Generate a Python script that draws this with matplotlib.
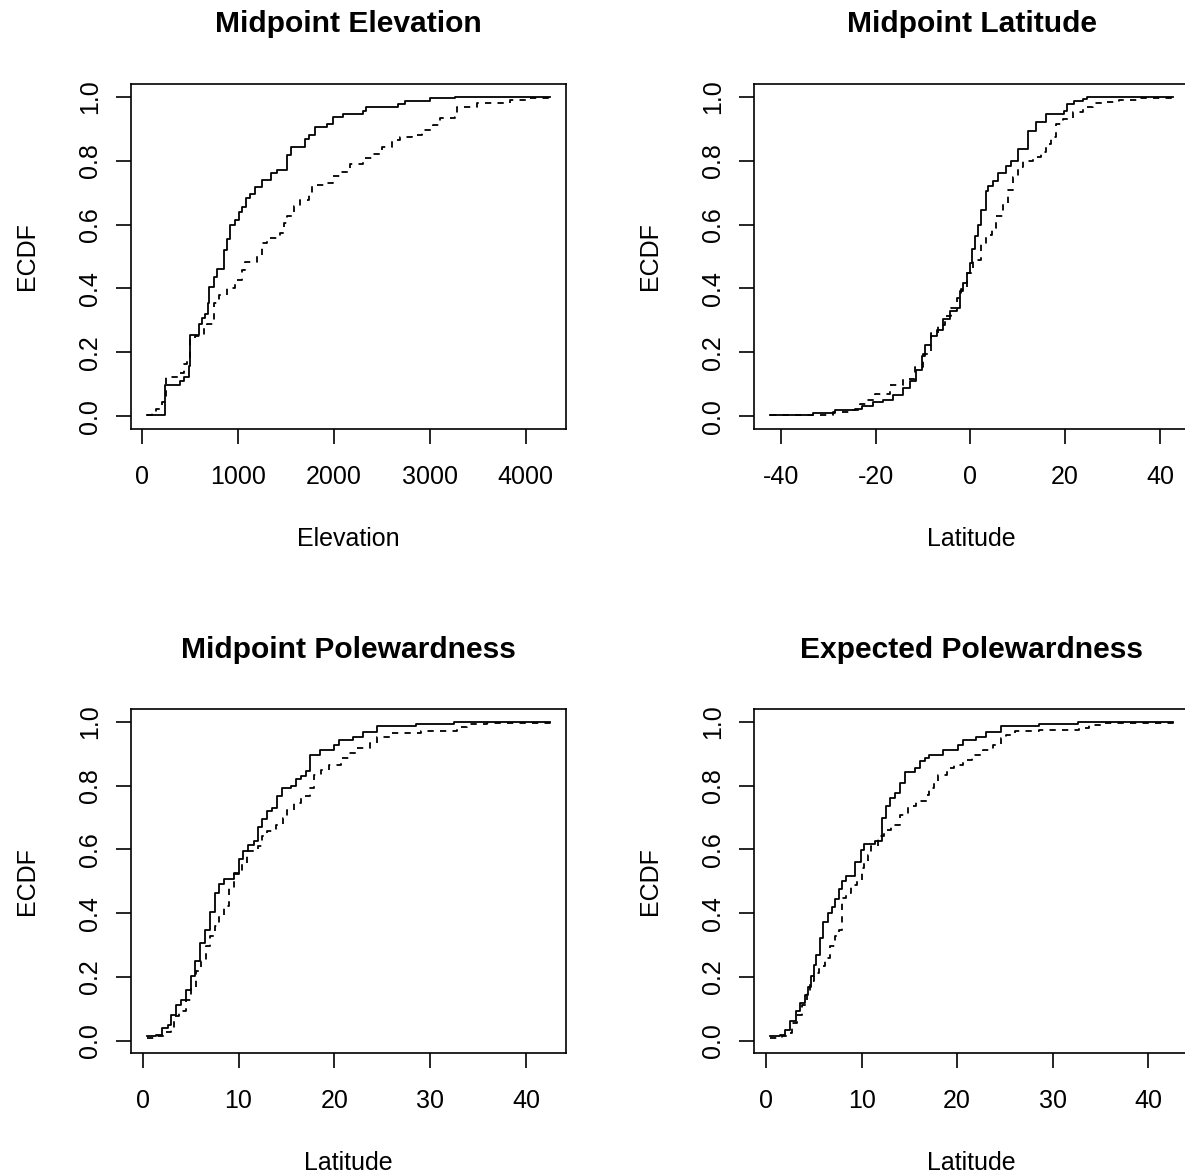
import matplotlib
matplotlib.use('Agg')
import matplotlib.pyplot as plt

plt.rcParams['font.family'] = ['Liberation Sans', 'DejaVu Sans']
plt.rcParams['lines.scale_dashes'] = False

# ECDF step points: solid (a) and dashed (b) curve per panel

# Midpoint Elevation
elev_x_a = [52, 236, 392, 434, 486, 497, 590, 625, 660, 687, 701, 746, 781, 850, 885, 920, 972, 1006, 1042, 1086,
            1128, 1173, 1250, 1347, 1406, 1510, 1555, 1701, 1736, 1805, 1927, 1996, 2100, 2302, 2336, 2673, 2743,
            3003, 3264, 4253]
elev_y_a = [0.005, 0.097, 0.11, 0.123, 0.157, 0.254, 0.29, 0.306, 0.32, 0.353, 0.405, 0.436, 0.462, 0.52, 0.556,
            0.598, 0.614, 0.64, 0.656, 0.682, 0.697, 0.718, 0.739, 0.76, 0.772, 0.817, 0.843, 0.869, 0.88, 0.906,
            0.916, 0.937, 0.945, 0.956, 0.969, 0.977, 0.986, 0.995, 1.0, 1.0]
elev_x_b = [52, 100, 150, 208, 253, 382, 434, 469, 503, 556, 642, 677, 746, 799, 885, 972, 1042, 1076, 1198, 1250,
            1302, 1441, 1476, 1510, 1580, 1649, 1736, 1771, 1927, 1996, 2066, 2170, 2309, 2396, 2500, 2604, 2691,
            2812, 2916, 3038, 3107, 3264, 3281, 3490, 3837, 4045, 4253]
elev_y_b = [0.005, 0.012, 0.022, 0.045, 0.123, 0.134, 0.165, 0.186, 0.238, 0.25, 0.28, 0.29, 0.353, 0.379, 0.40,
            0.426, 0.457, 0.483, 0.50, 0.543, 0.558, 0.574, 0.605, 0.626, 0.658, 0.678, 0.694, 0.725, 0.731, 0.752,
            0.765, 0.791, 0.807, 0.822, 0.843, 0.864, 0.875, 0.88, 0.896, 0.91, 0.932, 0.937, 0.969, 0.979, 0.99,
            0.995, 1.0]

# Midpoint Latitude
lat_x_a = [-42.2, -33.1, -28.5, -24.3, -22.9, -20.5, -18.4, -16.3, -14.2, -12.8, -11.4, -10.3, -9.6, -8.2, -7.1,
           -5.7, -4.3, -2.9, -2.2, -1.5, -0.8, -0.1, 0.4, 0.9, 1.6, 2.3, 3.2, 3.7, 4.8, 5.8, 7.6, 8.6, 10.0, 12.1,
           13.9, 16.0, 19.8, 20.5, 21.9, 23.7, 24.7, 42.8]
lat_y_a = [0.003, 0.01, 0.019, 0.023, 0.031, 0.044, 0.052, 0.068, 0.089, 0.11, 0.146, 0.188, 0.224, 0.25, 0.271,
           0.303, 0.329, 0.339, 0.391, 0.418, 0.449, 0.48, 0.522, 0.564, 0.60, 0.647, 0.705, 0.72, 0.736, 0.76,
           0.783, 0.80, 0.838, 0.893, 0.921, 0.945, 0.955, 0.976, 0.986, 0.994, 1.0, 1.0]
lat_x_b = [-42.2, -28.9, -25.4, -23.3, -21.9, -20.1, -17.0, -14.2, -11.7, -10.0, -8.2, -6.8, -5.4, -4.0, -2.9,
           -1.9, -0.8, 0.6, 2.3, 3.4, 4.5, 5.5, 6.9, 7.9, 9.0, 10.0, 11.1, 13.2, 14.9, 16.0, 17.0, 18.1, 19.5, 21.6,
           23.7, 25.8, 28.6, 31.4, 35.6, 42.8]
lat_y_b = [0.003, 0.013, 0.021, 0.037, 0.05, 0.071, 0.097, 0.118, 0.155, 0.196, 0.261, 0.287, 0.313, 0.339, 0.37,
           0.397, 0.447, 0.489, 0.54, 0.566, 0.59, 0.628, 0.666, 0.707, 0.749, 0.78, 0.80, 0.81, 0.826, 0.852,
           0.873, 0.915, 0.93, 0.951, 0.967, 0.98, 0.984, 0.99, 0.995, 1.0]

# Midpoint Polewardness
pole_x_a = [0.45, 1.4, 2.0, 2.6, 3.0, 3.5, 4.0, 4.5, 5.0, 5.5, 6.0, 6.5, 7.0, 7.5, 8.0, 8.5, 9.5, 10.0, 10.5, 11.0,
            11.6, 12.0, 12.5, 13.0, 13.5, 14.0, 14.5, 15.5, 16.0, 16.5, 17.0, 17.5, 18.5, 20.0, 20.5, 22.0, 23.0,
            24.5, 28.5, 32.5, 42.5]
pole_y_a = [0.014, 0.019, 0.04, 0.05, 0.082, 0.113, 0.129, 0.16, 0.202, 0.249, 0.306, 0.348, 0.404, 0.465, 0.492,
            0.507, 0.524, 0.57, 0.594, 0.615, 0.626, 0.669, 0.696, 0.72, 0.73, 0.767, 0.793, 0.80, 0.821, 0.832,
            0.847, 0.897, 0.913, 0.929, 0.945, 0.953, 0.969, 0.986, 0.994, 1.0, 1.0]
pole_x_b = [0.45, 1.6, 2.4, 3.0, 3.3, 3.8, 4.5, 5.0, 5.6, 6.1, 6.6, 7.0, 7.5, 8.0, 8.5, 9.0, 9.5, 10.1, 10.4, 10.9,
            12.0, 12.5, 13.0, 13.9, 14.6, 15.1, 15.8, 16.5, 17.5, 17.9, 18.6, 19.4, 20.7, 21.5, 22.4, 23.7, 24.5,
            25.9, 29.0, 32.8, 33.8, 35.9, 42.5]
pole_y_b = [0.008, 0.014, 0.026, 0.04, 0.076, 0.092, 0.129, 0.17, 0.218, 0.249, 0.296, 0.327, 0.359, 0.395, 0.422,
            0.479, 0.526, 0.537, 0.558, 0.594, 0.61, 0.641, 0.657, 0.678, 0.699, 0.725, 0.746, 0.767, 0.793, 0.835,
            0.85, 0.866, 0.887, 0.903, 0.918, 0.934, 0.953, 0.967, 0.973, 0.983, 0.994, 0.997, 1.0]

# Expected Polewardness
exp_x_a = [0.45, 1.5, 2.0, 2.5, 3.1, 3.6, 4.1, 4.4, 4.7, 5.0, 5.2, 5.6, 6.0, 6.5, 6.9, 7.2, 7.6, 7.9, 8.4, 9.3,
           9.9, 10.3, 11.4, 12.1, 12.5, 13.0, 13.5, 14.0, 14.5, 15.6, 16.1, 16.6, 17.1, 18.5, 20.1, 20.6, 22.0,
           23.0, 24.6, 28.6, 32.6, 42.6]
exp_y_a = [0.014, 0.019, 0.035, 0.061, 0.092, 0.118, 0.144, 0.17, 0.202, 0.238, 0.27, 0.322, 0.371, 0.40, 0.42,
           0.446, 0.476, 0.50, 0.518, 0.56, 0.597, 0.618, 0.626, 0.699, 0.735, 0.762, 0.777, 0.809, 0.842, 0.856,
           0.877, 0.887, 0.897, 0.913, 0.929, 0.945, 0.953, 0.969, 0.986, 0.994, 1.0, 1.0]
exp_x_b = [0.45, 1.7, 2.4, 2.7, 3.2, 3.8, 4.3, 4.6, 5.0, 5.5, 6.0, 6.2, 6.7, 7.2, 7.6, 7.9, 8.4, 8.9, 9.5, 10.0,
           10.3, 10.7, 11.0, 11.7, 12.3, 13.1, 14.0, 14.9, 15.7, 16.8, 17.1, 17.6, 18.0, 18.9, 19.7, 20.6, 21.6,
           22.7, 23.7, 24.6, 25.1, 26.1, 28.6, 32.7, 33.8, 35.5, 42.6]
exp_y_b = [0.008, 0.014, 0.024, 0.055, 0.082, 0.113, 0.15, 0.186, 0.212, 0.228, 0.233, 0.259, 0.296, 0.327, 0.348,
           0.448, 0.463, 0.49, 0.505, 0.542, 0.563, 0.584, 0.61, 0.641, 0.662, 0.678, 0.709, 0.735, 0.751, 0.772,
           0.793, 0.809, 0.835, 0.856, 0.866, 0.882, 0.897, 0.913, 0.929, 0.95, 0.96, 0.971, 0.976, 0.981, 0.992,
           0.997, 1.0]

titles = ['Midpoint Elevation', 'Midpoint Latitude', 'Midpoint Polewardness', 'Expected Polewardness']
xlabels = ['Elevation', 'Latitude', 'Latitude', 'Latitude']
xticks = [[0, 1000, 2000, 3000, 4000], [-40, -20, 0, 20, 40], [0, 10, 20, 30, 40], [0, 10, 20, 30, 40]]
yticks = [0.0, 0.2, 0.4, 0.6, 0.8, 1.0]
curves = [
    (elev_x_a, elev_y_a, elev_x_b, elev_y_b),
    (lat_x_a, lat_y_a, lat_x_b, lat_y_b),
    (pole_x_a, pole_y_a, pole_x_b, pole_y_b),
    (exp_x_a, exp_y_a, exp_x_b, exp_y_b),
]

# panel boxes in figure fractions (right column runs past the right edge, as in the original)
rects = [
    [0.1105, 0.6352, 0.3671, 0.2934],
    [0.6365, 0.6352, 0.3671, 0.2934],
    [0.1105, 0.1042, 0.3671, 0.2927],
    [0.6365, 0.1042, 0.3671, 0.2927],
]

fig = plt.figure(figsize=(11.85, 11.76), dpi=100)

for i in range(4):
    ax = fig.add_axes(rects[i])
    xa, ya, xb, yb = curves[i]
    ax.plot(xa, ya, drawstyle='steps-post', color='black', lw=1.3)
    ax.plot(xb, yb, drawstyle='steps-post', color='black', lw=1.3, dashes=(4.5, 4.5))
    ax.margins(x=0.04)
    ax.set_ylim(-0.04, 1.04)

    ax.set_xticks(xticks[i])
    ax.set_xticklabels([str(t) for t in xticks[i]])
    ax.set_yticks(yticks)
    ax.set_yticklabels(['%.1f' % t for t in yticks], rotation=90, va='center')
    ax.tick_params(axis='both', direction='out', length=10.8, width=1.2, labelsize=18, color='black')
    ax.tick_params(axis='x', pad=15)
    ax.tick_params(axis='y', pad=10)
    for s in ax.spines.values():
        s.set_linewidth(1.2)

    ax.text(0.5, 1.15, titles[i], transform=ax.transAxes, ha='center', va='baseline',
            fontsize=21.6, fontweight='bold')
    ax.text(0.5, -0.319, xlabels[i], transform=ax.transAxes, ha='center', va='center', fontsize=18)
    ax.text(-0.240, 0.5, 'ECDF', transform=ax.transAxes, ha='center', va='center', rotation=90, fontsize=18)

fig.savefig('out.png', dpi=100)
